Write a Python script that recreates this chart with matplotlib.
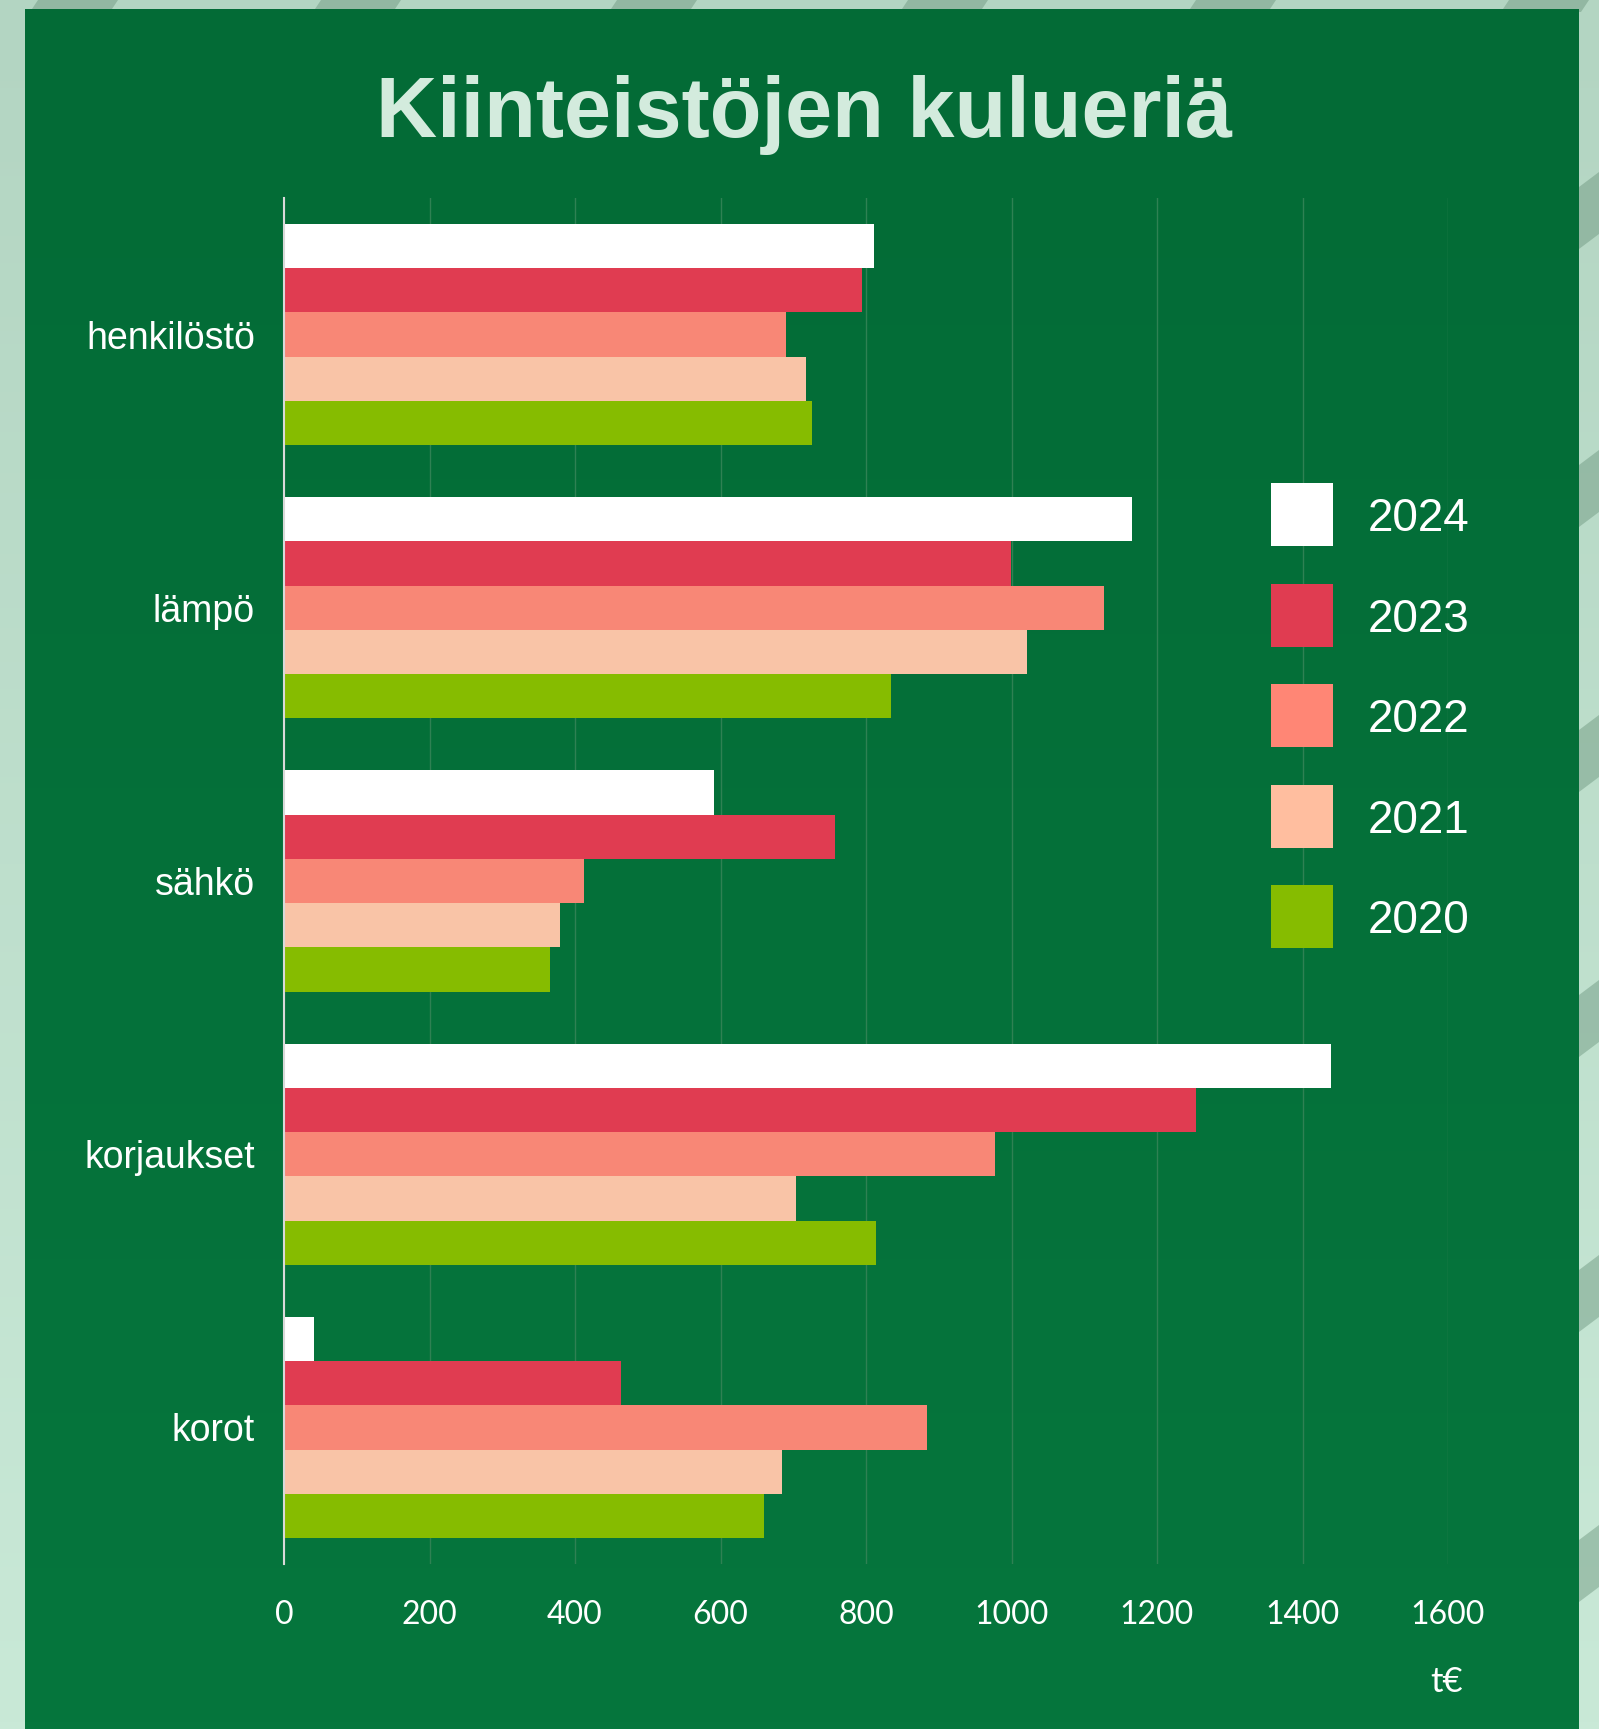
import numpy as np
import matplotlib.pyplot as plt
from matplotlib.patches import Polygon, Rectangle
from matplotlib.colors import LinearSegmentedColormap

# Data (t€)
kategoriat = ["henkilöstö", "lämpö", "sähkö", "korjaukset", "korot"]
vuodet = ["2024", "2023", "2022", "2021", "2020"]
v2024 = [811, 1166, 591, 1439, 41]
v2023 = [795, 999, 757, 1254, 463]
v2022 = [690, 1127, 412, 977, 884]
v2021 = [717, 1021, 379, 704, 685]
v2020 = [726, 834, 365, 814, 660]
sarjat = [v2024, v2023, v2022, v2021, v2020]
varit = ["#FFFFFF", "#E03C51", "#F88776", "#F9C4A7", "#86BC00"]
selite_varit = ["#FFFFFF", "#E03C51", "#FF8675", "#FFBE9F", "#86BC00"]

W, H = 1599, 1729
fig = plt.figure(figsize=(W / 100, H / 100), dpi=100)

# tausta: vaalea kehys raidoilla + vihreä paneeli
bg = fig.add_axes([0, 0, 1, 1])
bg.set_xlim(0, W)
bg.set_ylim(H, 0)
bg.axis("off")
kehys = LinearSegmentedColormap.from_list("kehys", ["#B3D5C2", "#C9E9D7"])
bg.imshow(np.linspace(0, 1, 256).reshape(-1, 1), cmap=kehys, aspect="auto",
          extent=(0, W, H, 0), zorder=0)
# raidat yläreunassa
for c in [74, 357, 653, 944, 1232, 1545]:
    bg.add_patch(Polygon([(c - 36, 0), (c + 44, 0), (c + 36, 12), (c - 44, 12)],
                         closed=True, color="#6A947C", alpha=0.45, lw=0, zorder=1))
# raidat oikeassa reunassa
for c in [212, 490, 755, 1020, 1295, 1565]:
    bg.add_patch(Polygon([(1575, c - 22), (W, c - 40), (W, c + 22), (1575, c + 40)],
                         closed=True, color="#6A947C", alpha=0.45, lw=0, zorder=1))
vihrea = LinearSegmentedColormap.from_list("vihrea", ["#036B36", "#06763D"])
bg.imshow(np.linspace(0, 1, 256).reshape(-1, 1), cmap=vihrea, aspect="auto",
          extent=(25, 1579, H, 9), zorder=2)

# pylväät
ax = fig.add_axes([284 / W, 1 - 1564 / H, 1164 / W, 1366 / H])
ax.set_facecolor("none")
y = np.arange(len(kategoriat))
korkeus = 0.162
for i, (arvot, vari, vuosi) in enumerate(zip(sarjat, varit, vuodet)):
    ax.barh(y - 2.5 * korkeus + (i + 0.5) * korkeus, arvot, height=korkeus,
            color=vari, label=vuosi, zorder=3)

ax.set_xlim(0, 1600)
ax.set_ylim(4.5, -0.5)
ax.set_xticks(range(0, 1601, 200))
ax.set_yticks(y)
ax.set_yticklabels(kategoriat, fontsize=27, color="white", family="Liberation Sans")
ax.tick_params(axis="y", length=0, pad=21)
ax.tick_params(axis="x", length=0, pad=26, labelsize=23, labelcolor="white")
for lab in ax.get_xticklabels():
    lab.set_family("Lato")
ax.grid(axis="x", color="#2F8153", lw=1.0, zorder=1)
for s in ["top", "right", "bottom"]:
    ax.spines[s].set_visible(False)
ax.spines["left"].set_color("#D9D9D9")
ax.spines["left"].set_linewidth(1.5)
ax.spines["left"].set_zorder(4)

fig.text(1447 / W, 1 - 1682 / H, "t€", fontsize=25, color="white",
         family="Lato", ha="center", va="center")

fig.text(804 / W, 1 - 137 / H, "Kiinteistöjen kulueriä", fontsize=61,
         fontweight="bold", color="#D3EBDD", family="Liberation Sans",
         ha="center", va="baseline")

# selite omalle päällimmäiselle tasolle, ettei ruudukko piirry ruutujen päälle
lg = fig.add_axes([0, 0, 1, 1], zorder=10)
lg.set_xlim(0, W)
lg.set_ylim(H, 0)
lg.axis("off")
lg.patch.set_alpha(0)
for k, (vuosi, vari) in enumerate(zip(vuodet, selite_varit)):
    yla = 483 + k * 100.5
    lg.add_patch(Rectangle((1271, yla), 62, 63, color=vari, lw=0))
    lg.text(1368, yla + 31.5 + 16.5, vuosi, fontsize=33, color="white",
            family="Liberation Sans", ha="left", va="baseline")

fig.savefig("out.png", dpi=100)
